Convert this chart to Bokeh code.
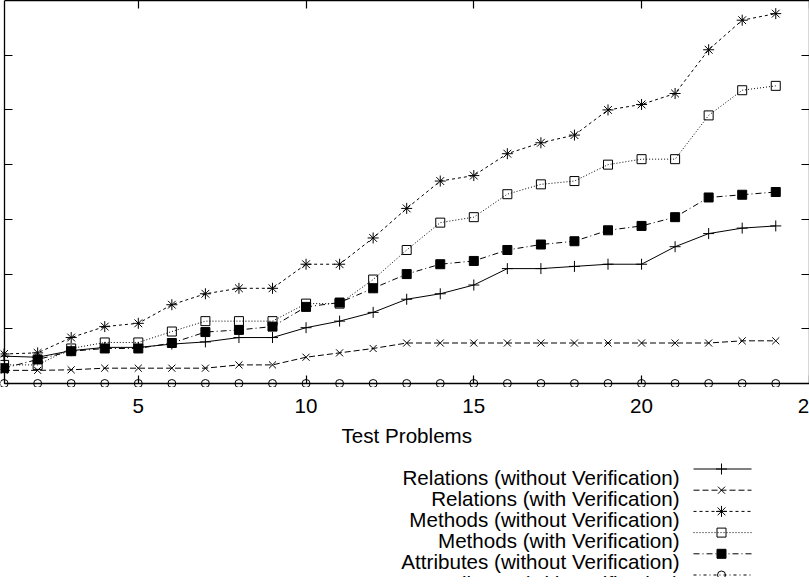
from bokeh.plotting import figure
from bokeh.models import LinearAxis, FixedTicker, Range1d, CustomJSTickFormatter
from bokeh.layouts import column
from bokeh.core.properties import value
from bokeh.embed import file_html
from bokeh.resources import INLINE

# ---------------- data ----------------
problems = [1, 2, 3, 4, 5, 6, 7, 8, 9, 10, 11, 12, 13, 14, 15, 16, 17, 18, 19, 20, 21, 22, 23, 24]
relations_without = [25, 24, 30, 33, 33, 36, 38, 42, 42, 51, 57, 65, 77, 82, 90, 105, 105, 107, 109, 109, 125, 137, 142, 144]
relations_with = [12, 12, 12.5, 14, 14, 14, 14, 17, 17, 24, 28, 32, 37, 37, 37, 37, 37, 37, 37, 37, 37, 37, 39, 39]
methods_without = [27, 28, 42, 52, 55, 72, 82, 87, 87, 109, 109, 133, 160, 185, 190, 210, 220, 227, 250, 255, 265, 305, 332, 338]
methods_with = [17, 17, 32, 37.5, 37.5, 47.5, 57, 57, 57, 73, 73, 95, 122, 147, 152, 173, 182, 185, 200, 205, 205, 245, 268, 272]
attributes_without = [14, 22, 29.5, 32, 32, 37, 47, 49, 52, 70, 74, 87, 100, 109, 112, 122, 127, 130, 140, 144, 152, 170, 172.5, 175]
attributes_with = [0, 0, 0, 0, 0, 0, 0, 0, 0, 0, 0, 0, 0, 0, 0, 0, 0, 0, 0, 0, 0, 0, 0, 0]

series_names = [
    "Relations (without Verification)",
    "Relations (with Verification)",
    "Methods (without Verification)",
    "Methods (with Verification)",
    "Attributes (without Verification)",
    "Attributes (with Verification)",
]
series_values = [relations_without, relations_with, methods_without,
                 methods_with, attributes_without, attributes_with]

x_ticks = [5, 10, 15, 20, 25]
x_tick_labels = ["5", "10", "15", "20", "25"]
y_ticks = [50, 100, 150, 200, 250, 300]
x_label = "Test Problems"
X_MIN, X_MAX = 1, 25
Y_MIN, Y_MAX = 0, 350

# ---------------- styles / layout ----------------
FONT = "Liberation Sans"
FS = "20.6px"
styles = [
    dict(dash="solid", marker="cross", fill=None, size=11),
    dict(dash="6 3", marker="x", fill=None, size=10),
    dict(dash="3 3", marker="asterisk", fill=None, size=11),
    dict(dash="1 2", marker="square", fill=None, size=9),
    dict(dash="6 3 1 3", marker="square", fill="black", size=9),
    dict(dash="3 3 1 3", marker="circle", fill=None, size=8),
]

PAGE_W, PAGE_H = 809, 585
PX_PER_X = 33.55          # horizontal pixels per problem
PLOT_LEFT = 3.6           # pixel of x = 1
PLOT_BOTTOM = 383         # pixel of y = 0
PAD_BOTTOM = 4            # room under the x axis so markers are not cut
px_per_y = PLOT_BOTTOM / (Y_MAX - Y_MIN)
x_start = X_MIN - PLOT_LEFT / PX_PER_X
x_end = x_start + PAGE_W / PX_PER_X
y_start = Y_MIN - PAD_BOTTOM / px_per_y
FRAME_H = PLOT_BOTTOM + PAD_BOTTOM

p = figure(frame_width=PAGE_W, frame_height=FRAME_H,
           x_range=Range1d(x_start, x_end), y_range=Range1d(y_start, Y_MAX),
           x_axis_location=None, y_axis_location=None,
           output_backend="svg", toolbar_location=None,
           min_border_left=0, min_border_right=0, min_border_top=0,
           min_border_bottom=0, background_fill_color="white",
           border_fill_color="white")
p.outline_line_color = None
p.xgrid.grid_line_color = None
p.ygrid.grid_line_color = None


def make_axis(ticks, bounds, fixed=None):
    ax = LinearAxis(ticker=FixedTicker(ticks=ticks), bounds=bounds)
    if fixed is not None:
        ax.fixed_location = fixed
    ax.major_tick_in = 8
    ax.major_tick_out = 0
    ax.minor_tick_in = 0
    ax.minor_tick_out = 0
    ax.axis_line_color = "black"
    ax.axis_line_width = 1.3
    ax.major_tick_line_color = "black"
    ax.major_tick_line_width = 1.2
    ax.formatter = CustomJSTickFormatter(code="return '';")
    ax.major_label_text_font_size = "0px"
    ax.major_label_standoff = 0
    return ax


p.add_layout(make_axis(x_ticks, (X_MIN, X_MAX), fixed=Y_MIN), "below")
p.add_layout(make_axis(x_ticks, (X_MIN, X_MAX)), "above")
p.add_layout(make_axis(y_ticks, (Y_MIN, Y_MAX), fixed=X_MIN), "left")
p.add_layout(make_axis(y_ticks, (Y_MIN, Y_MAX)), "right")

for vals, st in zip(series_values, styles):
    p.line(problems, vals, line_color="black", line_width=1, line_dash=st["dash"])
    p.scatter(problems, vals, marker=st["marker"], size=st["size"],
              line_color="black", line_width=1, fill_color=st["fill"])

# ---------------- lower panel: tick labels, axis title, legend ----------------
LAYOUT_GAP = 8            # extra space Bokeh leaves under the upper figure
LOW_TOP = FRAME_H + LAYOUT_GAP
LOW_H = PAGE_H - LOW_TOP
low = figure(frame_width=PAGE_W, frame_height=LOW_H,
             x_range=Range1d(x_start, x_end), y_range=Range1d(PAGE_H, LOW_TOP),
             output_backend="svg", toolbar_location=None,
             min_border=0, x_axis_location=None, y_axis_location=None)
low.extra_x_ranges = {"px": Range1d(0, PAGE_W)}
low.outline_line_color = None
low.xgrid.grid_line_color = None
low.ygrid.grid_line_color = None

TICK_BASELINE = 413.3
TITLE_X, TITLE_BASELINE = 406.3, 443.3
low.text(x=x_ticks, y=[TICK_BASELINE] * len(x_ticks), text=x_tick_labels,
         text_align="center", text_baseline="alphabetic",
         text_font=value(FONT), text_font_size=FS, text_color="black")
low.text(x=[TITLE_X], y=[TITLE_BASELINE], text=[x_label], x_range_name="px",
         text_align="center", text_baseline="alphabetic",
         text_font=value(FONT), text_font_size=FS, text_color="black")

TEXT_RIGHT = 679
FIRST_BASELINE = 484.5
ROW_STEP = 21.2
SAMPLE_X0, SAMPLE_X1, SAMPLE_MID = 693, 751, 721

baselines = [FIRST_BASELINE + i * ROW_STEP for i in range(len(series_names))]
low.text(x=[TEXT_RIGHT] * len(series_names), y=baselines, text=series_names,
         x_range_name="px", text_align="right", text_baseline="alphabetic",
         text_font=value(FONT), text_font_size=FS, text_color="black")
for b, st in zip(baselines, styles):
    yl = b - 8
    low.line([SAMPLE_X0, SAMPLE_X1], [yl, yl], x_range_name="px",
             line_color="black", line_width=1, line_dash=st["dash"])
    low.scatter([SAMPLE_MID], [yl], x_range_name="px", marker=st["marker"],
                size=st["size"], line_color="black", line_width=1,
                fill_color=st["fill"])

layout = column(p, low, spacing=0)
open("out.html", "w").write(file_html(layout, INLINE))
